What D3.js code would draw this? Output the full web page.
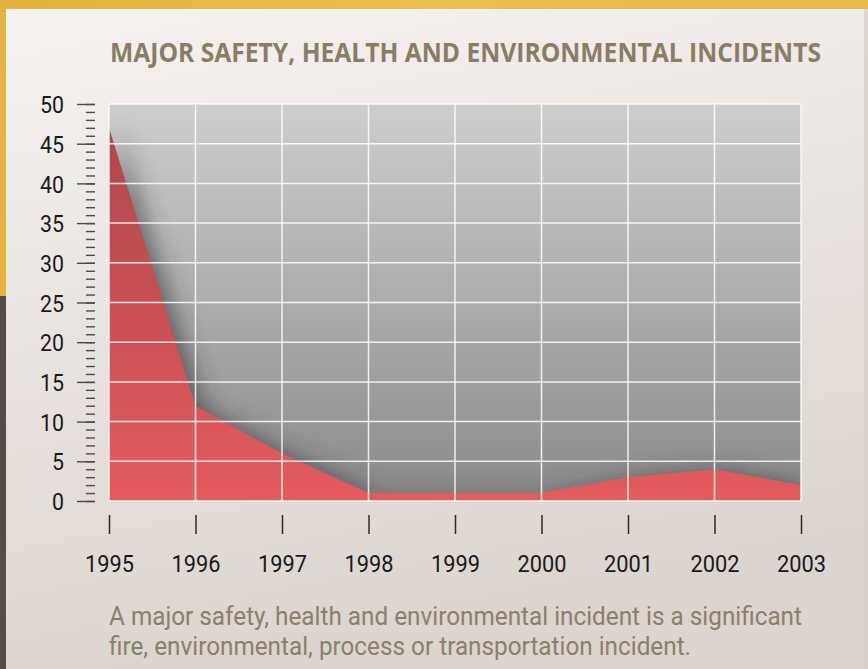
<!DOCTYPE html>
<html>
<head>
<meta charset="utf-8">
<script src="https://cdn.jsdelivr.net/npm/d3@7"></script>
<style>
  html, body { margin: 0; padding: 0; background: #e0d8d2; }
  svg { display: block; }
</style>
</head>
<body>
<script>
// ---- data ----
const years = [1995, 1996, 1997, 1998, 1999, 2000, 2001, 2002, 2003];
const incidents = [47, 12, 6, 1, 1, 1, 3, 4, 2];
const yMajorTicks = [0, 5, 10, 15, 20, 25, 30, 35, 40, 45, 50];
const titleText = "MAJOR SAFETY, HEALTH AND ENVIRONMENTAL INCIDENTS";
const noteLines = [
  "A major safety, health and environmental incident is a significant",
  "fire, environmental, process or transportation incident."
];

const W = 868, H = 669;
const plot = { left: 109, right: 801, top: 104, bottom: 501 };
const narrow = "Roboto, 'Liberation Sans Narrow', 'DejaVu Sans Condensed', sans-serif";

const svg = d3.select("body").append("svg").attr("width", W).attr("height", H);
const defs = svg.append("defs");

// gradients
const panelGrad = defs.append("linearGradient").attr("id", "panelGrad")
  .attr("x1", 0).attr("y1", 0).attr("x2", 0.25).attr("y2", 1);
panelGrad.append("stop").attr("offset", 0).attr("stop-color", "#f6f2f0");
panelGrad.append("stop").attr("offset", 0.45).attr("stop-color", "#ebe5e1");
panelGrad.append("stop").attr("offset", 1).attr("stop-color", "#dcd4cf");

const goldGrad = defs.append("linearGradient").attr("id", "goldGrad")
  .attr("x1", 0).attr("y1", 0).attr("x2", 1).attr("y2", 0);
goldGrad.append("stop").attr("offset", 0).attr("stop-color", "#e3b33c");
goldGrad.append("stop").attr("offset", 0.5).attr("stop-color", "#ecc04e");
goldGrad.append("stop").attr("offset", 1).attr("stop-color", "#e6b847");

const plotGrad = defs.append("linearGradient").attr("id", "plotGrad")
  .attr("gradientUnits", "userSpaceOnUse")
  .attr("x1", 0).attr("y1", plot.top).attr("x2", 0).attr("y2", plot.bottom);
plotGrad.append("stop").attr("offset", 0).attr("stop-color", "#cdcdcd");
plotGrad.append("stop").attr("offset", 0.5).attr("stop-color", "#acacac");
plotGrad.append("stop").attr("offset", 1).attr("stop-color", "#8a8a8a");

const redGrad = defs.append("linearGradient").attr("id", "redGrad")
  .attr("gradientUnits", "userSpaceOnUse")
  .attr("x1", 0).attr("y1", plot.top).attr("x2", 0).attr("y2", plot.bottom);
redGrad.append("stop").attr("offset", 0).attr("stop-color", "#ab474b");
redGrad.append("stop").attr("offset", 0.5).attr("stop-color", "#c95053");
redGrad.append("stop").attr("offset", 1).attr("stop-color", "#e35c5e");

defs.append("clipPath").attr("id", "plotClip").append("rect")
  .attr("x", plot.left).attr("y", plot.top)
  .attr("width", plot.right - plot.left).attr("height", plot.bottom - plot.top);

const blur = defs.append("filter").attr("id", "shadowBlur")
  .attr("x", -0.2).attr("y", -0.2).attr("width", 1.4).attr("height", 1.4);
blur.append("feGaussianBlur").attr("stdDeviation", 12);

// ---- background ----
svg.append("rect").attr("x", 0).attr("y", 0).attr("width", W).attr("height", H).attr("fill", "#dcd4cf");
svg.append("rect").attr("x", 0).attr("y", 0).attr("width", W).attr("height", 10).attr("fill", "url(#goldGrad)");
svg.append("rect").attr("x", 0).attr("y", 0).attr("width", 6).attr("height", 296).attr("fill", "#e3b43f");
svg.append("rect").attr("x", 0).attr("y", 296).attr("width", 6).attr("height", H - 296).attr("fill", "#554c45");
svg.append("rect").attr("x", 6).attr("y", 9).attr("width", W - 6).attr("height", H - 9)
  .attr("fill", "url(#panelGrad)");
svg.append("rect").attr("x", W - 4).attr("y", 9).attr("width", 4).attr("height", H - 9)
  .attr("fill", "#d4ccc6").attr("opacity", 0.7);

// ---- scales ----
const x = d3.scaleLinear().domain([1995, 2003]).range([plot.left, plot.right]);
const y = d3.scaleLinear().domain([0, 50]).range([plot.bottom, plot.top]);

// ---- plot area ----
svg.append("rect").attr("x", plot.left).attr("y", plot.top)
  .attr("width", plot.right - plot.left).attr("height", plot.bottom - plot.top)
  .attr("fill", "url(#plotGrad)");

const data = years.map((yr, i) => ({ year: yr, value: incidents[i] }));
const area = d3.area().x(d => x(d.year)).y0(y(0)).y1(d => y(d.value));

const clipG = svg.append("g").attr("clip-path", "url(#plotClip)");
clipG.append("path").datum(data).attr("d", area)
  .attr("fill", "#2a2a2a").attr("opacity", 0.6)
  .attr("transform", "translate(8,3)")
  .attr("filter", "url(#shadowBlur)");
clipG.append("path").datum(data).attr("d", area).attr("fill", "url(#redGrad)");

// gridlines
const grid = svg.append("g").attr("stroke", "#ffffff").attr("stroke-width", 1.5);
grid.selectAll("line.h").data(yMajorTicks).join("line")
  .attr("x1", plot.left).attr("x2", plot.right)
  .attr("y1", d => y(d)).attr("y2", d => y(d))
  .attr("stroke-opacity", 0.85);
grid.selectAll("line.v").data(years).join("line")
  .attr("y1", plot.top).attr("y2", plot.bottom)
  .attr("x1", d => x(d)).attr("x2", d => x(d))
  .attr("stroke-opacity", 0.85);

// ---- y axis ----
const yMinor = d3.range(0, 51, 1);
const yAxisMinor = d3.axisLeft(y).tickValues(yMinor).tickSize(9).tickFormat("");
const gyMinor = svg.append("g").attr("transform", "translate(95,0)").call(yAxisMinor);
gyMinor.select(".domain").remove();
gyMinor.selectAll("line").attr("stroke", "#4a4a4a").attr("stroke-width", 1.4);

const yAxisMajor = d3.axisLeft(y).tickValues(yMajorTicks).tickSize(18).tickPadding(13)
  .tickFormat(d3.format("d"));
const gy = svg.append("g").attr("transform", "translate(95,0)").call(yAxisMajor);
gy.select(".domain").remove();
gy.selectAll("line").attr("stroke", "#4a4a4a").attr("stroke-width", 1.4);
gy.selectAll("text").attr("font-family", narrow).attr("font-size", 24)
  .attr("fill", "#1a1a1a").attr("dy", "0.36em")
  .attr("textLength", function () { return this.textContent.length * 12; })
  .attr("lengthAdjust", "spacingAndGlyphs");

// ---- x axis ----
const xAxis = d3.axisBottom(x).tickValues(years).tickSize(19).tickPadding(21)
  .tickFormat(d3.format("d"));
const gx = svg.append("g").attr("transform", "translate(0,515)").call(xAxis);
gx.select(".domain").remove();
gx.selectAll("line").attr("stroke", "#2a2a2a").attr("stroke-width", 1.5);
gx.selectAll("text").attr("font-family", narrow).attr("font-size", 24).attr("fill", "#1a1a1a")
  .attr("textLength", 49).attr("lengthAdjust", "spacingAndGlyphs");

// ---- title ----
svg.append("text").attr("x", 110).attr("y", 62)
  .attr("font-family", "'Open Sans', 'DejaVu Sans', sans-serif")
  .attr("font-weight", 700).attr("font-size", 26)
  .attr("fill", "#8a7d64")
  .attr("textLength", 711).attr("lengthAdjust", "spacingAndGlyphs")
  .text(titleText);

// ---- footnote ----
const noteLens = [693, 582];
svg.selectAll("text.note").data(noteLines).join("text").attr("class", "note")
  .attr("x", 109).attr("y", (d, i) => 625 + i * 30)
  .attr("font-family", narrow).attr("font-size", 26)
  .attr("fill", "#8b806b")
  .attr("textLength", (d, i) => noteLens[i]).attr("lengthAdjust", "spacingAndGlyphs")
  .text(d => d);
</script>
</body>
</html>
